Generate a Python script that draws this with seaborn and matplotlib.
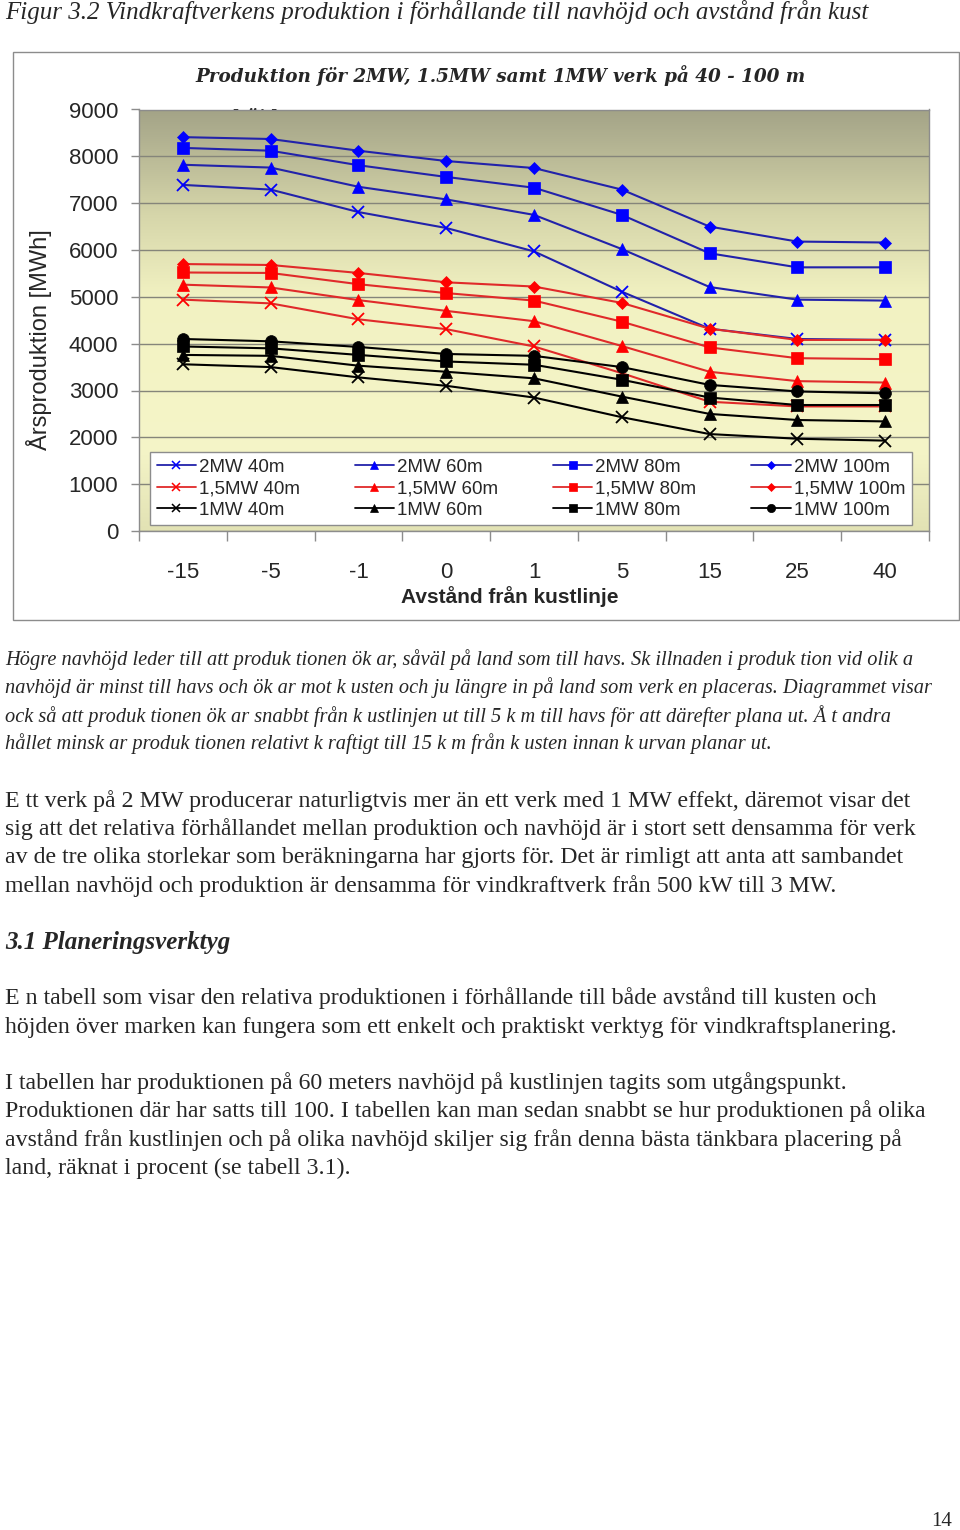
import numpy as np
import pandas as pd
import matplotlib
matplotlib.use('Agg')
import matplotlib.pyplot as plt
import seaborn as sns
from matplotlib.colors import LinearSegmentedColormap
from matplotlib.lines import Line2D
from matplotlib.patches import Rectangle
from matplotlib.transforms import Bbox, TransformedBbox

# Avstånd från kustlinje [km] (categories on the x axis)
avstand = ['-15', '-5', '-1', '0', '1', '5', '15', '25', '40']

# Årsproduktion [MWh]
prod_2mw_40 = [7390, 7290, 6810, 6470, 5970, 5110, 4320, 4100, 4080]
prod_2mw_60 = [7820, 7760, 7350, 7080, 6750, 6020, 5210, 4940, 4920]
prod_2mw_80 = [8180, 8120, 7810, 7560, 7330, 6750, 5930, 5630, 5630]
prod_2mw_100 = [8410, 8370, 8120, 7900, 7750, 7290, 6500, 6180, 6160]
prod_15mw_40 = [4940, 4860, 4520, 4310, 3940, 3370, 2760, 2660, 2660]
prod_15mw_60 = [5260, 5200, 4930, 4700, 4480, 3950, 3400, 3200, 3170]
prod_15mw_80 = [5520, 5510, 5270, 5080, 4920, 4470, 3920, 3690, 3670]
prod_15mw_100 = [5700, 5680, 5510, 5310, 5220, 4870, 4320, 4080, 4080]
prod_1mw_40 = [3560, 3500, 3280, 3100, 2850, 2430, 2070, 1970, 1930]
prod_1mw_60 = [3760, 3740, 3530, 3400, 3260, 2870, 2500, 2370, 2340]
prod_1mw_80 = [3940, 3900, 3760, 3620, 3550, 3230, 2850, 2690, 2690]
prod_1mw_100 = [4100, 4050, 3930, 3780, 3740, 3500, 3120, 2980, 2940]

sizes = ['2MW', '1,5MW', '1MW']
heights = ['40m', '60m', '80m', '100m']
series_values = [
    [prod_2mw_40, prod_2mw_60, prod_2mw_80, prod_2mw_100],
    [prod_15mw_40, prod_15mw_60, prod_15mw_80, prod_15mw_100],
    [prod_1mw_40, prod_1mw_60, prod_1mw_80, prod_1mw_100],
]

line_colors = {'2MW': '#2222aa', '1,5MW': '#e02a2a', '1MW': '#000000'}
marker_colors = {'2MW': '#0000ff', '1,5MW': '#ff0000', '1MW': '#000000'}
height_markers = {'40m': 'x', '60m': '^', '80m': 's', '100m': 'D'}
marker_sizes = {'x': 8.5, '^': 8.5, 's': 8, 'D': 6.5, 'o': 8.5}

# long table for seaborn
rows = []
for size, vals_by_height in zip(sizes, series_values):
    for height, vals in zip(heights, vals_by_height):
        for pos, (a, v) in enumerate(zip(avstand, vals)):
            rows.append({'Serie': f'{size} {height}', 'Storlek': size, 'pos': pos,
                         'Avstånd': a, 'Produktion': v})
df = pd.DataFrame(rows)

order = [f'{s} {h}' for s in sizes for h in heights]
markers = {f'{s} {h}': height_markers[h] for s in sizes for h in heights}
markers['1MW 100m'] = 'o'

sns.set_style('white')
plt.rcParams['font.family'] = ['Liberation Sans', 'DejaVu Sans']

fig = plt.figure(figsize=(9.6, 15.3), dpi=100)
W, H = 960, 1530
ax = fig.add_axes([139 / W, 1 - 531 / H, 790 / W, 421.5 / H])

# shaded plot area
cmap = LinearSegmentedColormap.from_list('bg', [
    (0.0, '#e2e2b4'), (0.2, '#f5f5c8'), (0.55, '#f2f2c2'),
    (0.75, '#d6d6aa'), (1.0, '#a3a387')])
grad = np.linspace(0, 1, 256).reshape(-1, 1)
ax.imshow(grad, extent=[-0.5, 8.5, 0, 9000], aspect='auto', origin='lower',
          cmap=cmap, zorder=0)

handles = {}
for name in order:
    sub = df[df['Serie'] == name]
    size = sub['Storlek'].iloc[0]
    m = markers[name]
    mc = marker_colors[size]
    mew = 1.3 if m == 'x' else 0.5
    sns.lineplot(data=sub, x='pos', y='Produktion', color=line_colors[size],
                 marker=m, markersize=marker_sizes[m], mfc=mc, mec=mc, mew=mew,
                 lw=1.5, sort=False, ax=ax, legend=False)
    handles[name] = Line2D([], [], color=line_colors[size], lw=1.3, marker=m,
                           markersize=marker_sizes[m] * 0.7, mfc=mc, mec=mc,
                           mew=1.1 if m == 'x' else 0.5)

# legend: one row per turbine size, one column per hub height
leg_labels = [f'{s} {h}' for h in heights for s in sizes]
leg = ax.legend([handles[n] for n in leg_labels], leg_labels, ncol=4, loc='lower left',
                bbox_to_anchor=(0.014, 0.014, 0.964, 0.178), mode='expand',
                borderaxespad=0, fontsize=13.5, handlelength=2.1,
                handletextpad=0.15, labelspacing=0.22, columnspacing=0.5,
                frameon=True, fancybox=False, framealpha=1, borderpad=0.35)
leg.get_frame().set_edgecolor('#8c8c8c')
leg.get_frame().set_linewidth(1)

ax.set_xlim(-0.5, 8.5)
ax.set_ylim(0, 9000)
ax.set_xticks(range(len(avstand)))
ax.set_xticklabels(avstand)
ax.set_xticks(np.arange(-0.5, len(avstand), 1), minor=True)
ax.set_yticks(range(0, 9001, 1000))
ax.tick_params(axis='x', which='major', length=0, pad=22, labelsize=16)
ax.tick_params(axis='x', which='minor', length=7, width=1, color='#8c8c8c',
               direction='out', bottom=True)
ax.tick_params(axis='y', length=6, width=1, color='#8c8c8c', direction='out',
               pad=9, labelsize=16, left=True)
ax.yaxis.grid(True, color='#85857a', lw=1)
ax.xaxis.grid(False)
ax.set_axisbelow(True)
for sp in ax.spines.values():
    sp.set_color('#8c8c8c')
    sp.set_linewidth(1)

ax.set_xlabel('Avstånd från kustlinje', fontsize=15, fontweight='bold')
ax.xaxis.set_label_coords((510 - 139) / 790, (531 - 586) / 421.5)
ax.set_ylabel('Årsproduktion [MWh]', fontsize=17)
ax.yaxis.set_label_coords((52 - 139) / 790, 0.453)

# chart frame
frame = Rectangle((13 / W, 1 - 620 / H), 946 / W, 568 / H, transform=fig.transFigure,
                  fill=False, edgecolor='#8c8c8c', lw=1)
fig.patches.append(frame)
clip = TransformedBbox(Bbox([[13 / W, 1 - 620 / H], [959 / W, 1 - 52 / H]]), fig.transFigure)

fig.text(195 / W, 1 - 76 / H, 'Produktion för 2MW, 1.5MW samt 1MW verk på 40 - 100 m',
         fontsize=13.2, fontweight='bold', style='italic', family='DejaVu Serif',
         ha='left', va='center')
fig.text(197 / W, 1 - 123 / H, 'navhöjd', fontsize=13.2, fontweight='bold',
         style='italic', family='DejaVu Serif', ha='left', va='baseline', zorder=-1)
km = fig.text(390 / W, 1 - 636 / H, '[km]', fontsize=15, fontweight='bold',
              ha='left', va='baseline', clip_on=True)
km.set_clip_box(clip)

# page text around the figure
serif = ['Liberation Serif', 'DejaVu Serif']
fig.text(5 / W, 1 - 12 / H,
         'Figur 3.2 Vindkraftverkens produktion i förhållande till navhöjd och avstånd från kust',
         fontsize=18, style='italic', family=serif, ha='left', va='center')

para1 = [
    'Högre navhöjd leder till att produk tionen ök ar, såväl på land som till havs. Sk illnaden i produk tion vid olik a',
    'navhöjd är minst till havs och ök ar mot k usten och ju längre in på land som verk en placeras. Diagrammet visar',
    'ock så att produk tionen ök ar snabbt från k ustlinjen ut till 5 k m till havs för att därefter plana ut. Å t andra',
    'hållet minsk ar produk tionen relativt k raftigt till 15 k m från k usten innan k urvan planar ut.',
]
for y, txt in zip([660, 688, 716, 744], para1):
    fig.text(5 / W, 1 - y / H, txt, fontsize=14.7, style='italic', family=serif,
             ha='left', va='center')

para2 = [
    'E tt verk på 2 MW producerar naturligtvis mer än ett verk med 1 MW effekt, däremot visar det',
    'sig att det relativa förhållandet mellan produktion och navhöjd är i stort sett densamma för verk',
    'av de tre olika storlekar som beräkningarna har gjorts för. Det är rimligt att anta att sambandet',
    'mellan navhöjd och produktion är densamma för vindkraftverk från 500 kW till 3 MW.',
]
for y, txt in zip([801, 829, 857, 886], para2):
    fig.text(5 / W, 1 - y / H, txt, fontsize=17.2, family=serif, ha='left', va='center')

fig.text(5 / W, 1 - 942 / H, '3.1 Planeringsverktyg', fontsize=18, fontweight='bold',
         style='italic', family=serif, ha='left', va='center')

para3 = [
    'E n tabell som visar den relativa produktionen i förhållande till både avstånd till kusten och',
    'höjden över marken kan fungera som ett enkelt och praktiskt verktyg för vindkraftsplanering.',
]
for y, txt in zip([998, 1027], para3):
    fig.text(5 / W, 1 - y / H, txt, fontsize=17.2, family=serif, ha='left', va='center')

para4 = [
    'I tabellen har produktionen på 60 meters navhöjd på kustlinjen tagits som utgångspunkt.',
    'Produktionen där har satts till 100. I tabellen kan man sedan snabbt se hur produktionen på olika',
    'avstånd från kustlinjen och på olika navhöjd skiljer sig från denna bästa tänkbara placering på',
    'land, räknat i procent (se tabell 3.1).',
]
for y, txt in zip([1083, 1111, 1140, 1168], para4):
    fig.text(5 / W, 1 - y / H, txt, fontsize=17.2, family=serif, ha='left', va='center')

fig.text(952 / W, 1 - 1521 / H, '14', fontsize=15, family=serif, ha='right', va='center')

fig.savefig('out.png', dpi=100)
plt.close(fig)
